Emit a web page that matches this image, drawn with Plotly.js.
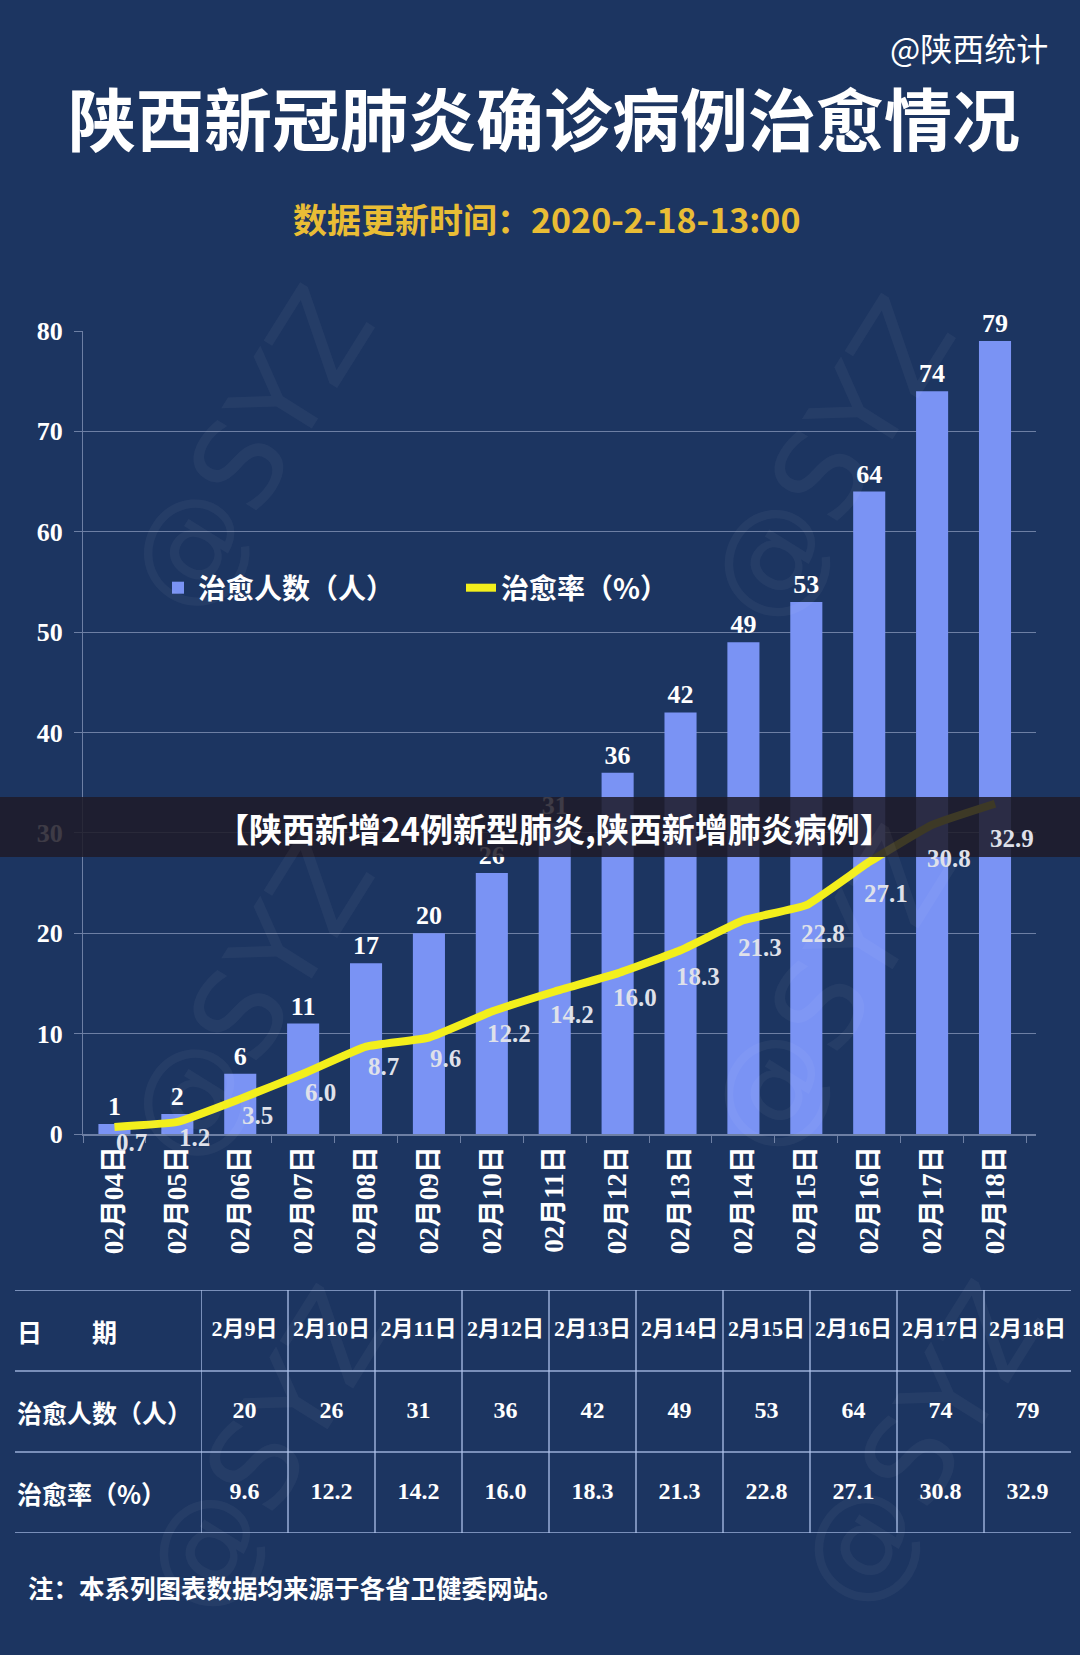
<!DOCTYPE html>
<html>
<head>
<meta charset="utf-8">
<script src="https://cdn.plot.ly/plotly-3.0.1.min.js"></script>
<style>
html,body{margin:0;padding:0;background:#1c3561;}
#chart{width:1080px;height:1655px;}
</style>
</head>
<body>
<div id="chart"></div>
<script>
// ---- data ----
const dates = ['02月04日','02月05日','02月06日','02月07日','02月08日','02月09日','02月10日','02月11日','02月12日','02月13日','02月14日','02月15日','02月16日','02月17日','02月18日'];
const curedCount = [1, 2, 6, 11, 17, 20, 26, 31, 36, 42, 49, 53, 64, 74, 79];
const cureRate = [0.7, 1.2, 3.5, 6.0, 8.7, 9.6, 12.2, 14.2, 16.0, 18.3, 21.3, 22.8, 27.1, 30.8, 32.9];
const tableDates = ['2月9日','2月10日','2月11日','2月12日','2月13日','2月14日','2月15日','2月16日','2月17日','2月18日'];
const tableCount = [20, 26, 31, 36, 42, 49, 53, 64, 74, 79];
const tableRate = [9.6, 12.2, 14.2, 16.0, 18.3, 21.3, 22.8, 27.1, 30.8, 32.9];
const rowLabels = ['日　　期', '治愈人数（人）', '治愈率（%）'];
const seriesNames = ['治愈人数（人）', '治愈率（%）'];
const titleText = '陕西新冠肺炎确诊病例治愈情况';
const subtitleText = '数据更新时间：2020-2-18-13:00';
const sourceText = '@陕西统计';
const noteText = '注：本系列图表数据均来源于各省卫健委网站。';
const bannerText = '【陕西新增24例新型肺炎,陕西新增肺炎病例】';
const watermarkText = '@SYZ';

// ---- styles ----
const W = 1080, H = 1655;
const BG = '#1c3561';
const BAR = '#7a93f4';
const LINE = '#f3ef1c';
const GRID = 'rgba(190,202,232,0.5)';
const TLINE = 'rgba(175,195,235,0.85)';
const SERIF = 'Liberation Serif, "Noto Sans CJK SC", serif';
const CJK = '"Noto Sans CJK SC", sans-serif';
const px = v => v / W;
const py = v => 1 - v / H;

const traces = [];
traces.push({
  type: 'bar', x: dates, y: curedCount, name: seriesNames[0],
  marker: {color: BAR},
  text: curedCount.map(String), textposition: 'outside', constraintext: 'none',
  textfont: {family: SERIF, size: 26, color: '#ffffff', weight: 'bold'},
  cliponaxis: false, hoverinfo: 'skip'
});
traces.push({
  type: 'scatter', mode: 'lines', x: dates, y: cureRate, name: seriesNames[1],
  line: {color: LINE, width: 8, shape: 'spline', smoothing: 0.35},
  hoverinfo: 'skip'
});
// table rows
const cols = tableDates.map((d, i) => i);
traces.push({
  type: 'scatter', mode: 'text', xaxis: 'x2', yaxis: 'y2', showlegend: false,
  x: cols, y: cols.map(() => 0), text: tableDates,
  textfont: {family: SERIF, size: 22, color: '#ffffff', weight: 'bold'}, hoverinfo: 'skip'
});
traces.push({
  type: 'scatter', mode: 'text', xaxis: 'x2', yaxis: 'y2', showlegend: false,
  x: cols, y: cols.map(() => 1), text: tableCount.map(String),
  textfont: {family: SERIF, size: 24, color: '#ffffff', weight: 'bold'}, hoverinfo: 'skip'
});
traces.push({
  type: 'scatter', mode: 'text', xaxis: 'x2', yaxis: 'y2', showlegend: false,
  x: cols, y: cols.map(() => 2), text: tableRate.map(v => v.toFixed(1)),
  textfont: {family: SERIF, size: 24, color: '#ffffff', weight: 'bold'}, hoverinfo: 'skip'
});

const annotations = [];
// watermarks
[[250,450],[830,460],[250,1000],[830,990],[265,1450],[920,1445]].forEach(p => {
  annotations.push({xref:'paper', yref:'paper', x:px(p[0]), y:py(p[1]), xanchor:'center', yanchor:'middle',
    text: watermarkText, showarrow:false,
    textangle:-58, font:{family:'DejaVu Sans', size:120, color:'rgba(255,255,255,0.045)'}});
});
annotations.push({xref:'paper', yref:'paper', x:px(1050), y:py(47), xanchor:'right', yanchor:'middle', text: sourceText, showarrow:false,
  font:{family:CJK, size:32, color:'#ffffff'}});
annotations.push({xref:'paper', yref:'paper', x:px(544), y:py(116), xanchor:'center', yanchor:'middle', text: titleText, showarrow:false,
  font:{family:CJK, size:68, color:'#ffffff', weight:'bold'}});
annotations.push({xref:'paper', yref:'paper', x:px(546), y:py(219), xanchor:'center', yanchor:'middle', text: subtitleText, showarrow:false,
  font:{family:CJK, size:34, color:'#e9bd35', weight:'bold'}});
// line labels
cureRate.forEach((v, i) => {
  annotations.push({xref:'x', yref:'y', x: dates[i], y: v, xanchor:'center', yanchor:'middle', text: v.toFixed(1), showarrow:false,
    xshift: 17, yshift: -(15 + 0.6 * v), font:{family:SERIF, size:25, color:'#dfe1ea', weight:'bold'}});
});
// table row labels
rowLabels.forEach((t, r) => {
  annotations.push({xref:'paper', yref:'y2', x:px(15), y:r, xanchor:'left', yanchor:'middle', text:t, showarrow:false,
    font:{family:CJK, size:25, color:'#ffffff', weight:'bold'}});
});
annotations.push({xref:'paper', yref:'paper', x:px(26), y:py(1586), xanchor:'left', yanchor:'middle', text: noteText, showarrow:false,
  font:{family:CJK, size:25.5, color:'#ffffff', weight:'bold'}});
// banner text
annotations.push({xref:'paper', yref:'paper', x:px(554), y:py(828), xanchor:'center', yanchor:'middle', text: bannerText, showarrow:false,
  font:{family:CJK, size:33, color:'#ffffff', weight:'bold'}});

const shapes = [];
// table lines
[-0.5, 0.5, 1.5, 2.5].forEach(y => {
  shapes.push({type:'line', xref:'paper', yref:'y2', x0:px(15), x1:px(1071), y0:y, y1:y, line:{color:TLINE, width:1.5}});
});
cols.forEach(c => {
  shapes.push({type:'line', xref:'x2', yref:'y2', x0:c-0.5, x1:c-0.5, y0:-0.5, y1:2.5, line:{color:TLINE, width:1.5}});
});
// banner overlay
shapes.push({type:'rect', xref:'paper', yref:'paper', x0:0, x1:1, y0:py(857), y1:py(797), layer:'above',
  fillcolor:'rgba(30,27,40,0.86)', line:{width:0}});

const layout = {
  width: W, height: H,
  margin: {l:0, r:0, t:0, b:0, autoexpand:false},
  paper_bgcolor: BG, plot_bgcolor: BG,
  showlegend: true,
  legend: {orientation:'h', x:px(158), y:py(588), xanchor:'left', yanchor:'middle',
    font:{family:CJK, size:28, color:'#ffffff', weight:'bold'}, bgcolor:'rgba(0,0,0,0)',
    entrywidth: 258, entrywidthmode:'pixels', traceorder:'normal'},
  bargap: 0.49,
  xaxis: {domain:[px(83), px(1036)], type:'category', tickangle:-90, automargin:false,
    tickfont:{family:SERIF, size:27, color:'#ffffff', weight:'bold'},
    ticks:'outside', tickson:'boundaries', ticklen:7, tickcolor:GRID,
    showline:true, linecolor:GRID, linewidth:1.5, showgrid:false, fixedrange:true},
  yaxis: {domain:[py(1134), py(331)], range:[0,80], dtick:10, autorange:false, automargin:false,
    tickfont:{family:SERIF, size:26, color:'#ffffff', weight:'bold'}, ticklabelstandoff: 6,
    ticks:'outside', ticklen:8, tickcolor:GRID, showline:true, linecolor:GRID,
    showgrid:true, gridcolor:GRID, gridwidth:1, zeroline:false, fixedrange:true},
  xaxis2: {domain:[px(201), px(1071)], range:[-0.5, 9.5], visible:false, anchor:'y2', fixedrange:true},
  yaxis2: {domain:[py(1533), py(1290)], range:[2.5, -0.5], autorange:false, visible:false, anchor:'x2', fixedrange:true},
  annotations: annotations,
  shapes: shapes
};

Plotly.newPlot('chart', traces, layout, {staticPlot:true, displayModeBar:false});
</script>
</body>
</html>
